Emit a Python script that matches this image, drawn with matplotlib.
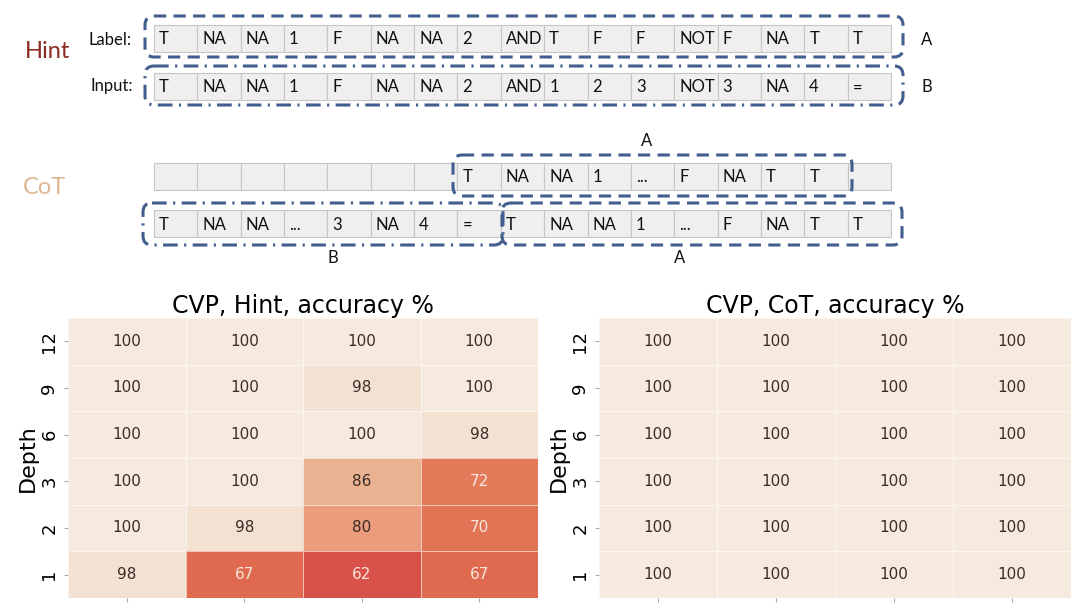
import matplotlib

matplotlib.use("Agg")
import matplotlib.pyplot as plt
import numpy as np
from matplotlib.colors import LinearSegmentedColormap, Normalize
from matplotlib.patches import FancyBboxPatch, Rectangle

# ---- diagram tokens ----
label_tokens = ["T", "NA", "NA", "1", "F", "NA", "NA", "2", "AND",
                "T", "F", "F", "NOT", "F", "NA", "T", "T"]
input_tokens = ["T", "NA", "NA", "1", "F", "NA", "NA", "2", "AND",
                "1", "2", "3", "NOT", "3", "NA", "4", "="]
cot_top_tokens = ["", "", "", "", "", "", "",
                  "T", "NA", "NA", "1", "...", "F", "NA", "T", "T", ""]
cot_bottom_tokens = ["T", "NA", "NA", "...", "3", "NA", "4", "=",
                     "T", "NA", "NA", "1", "...", "F", "NA", "T", "T"]

# ---- heatmap data ----
depths = ["12", "9", "6", "3", "2", "1"]
n_cols = 4
hint_acc = np.array([
    [100, 100, 100, 100],
    [100, 100, 98, 100],
    [100, 100, 100, 98],
    [100, 100, 86, 72],
    [100, 98, 80, 70],
    [98, 67, 62, 67],
])
cot_acc = np.array([
    [100, 100, 100, 100],
    [100, 100, 100, 100],
    [100, 100, 100, 100],
    [100, 100, 100, 100],
    [100, 100, 100, 100],
    [100, 100, 100, 100],
])

W, H = 1080, 604
fig = plt.figure(figsize=(W / 100, H / 100), dpi=100)
fig.patch.set_facecolor("white")

# ---------------- top diagram (pixel coordinates) ----------------
ax = fig.add_axes([0, 0, 1, 1])
ax.set_xlim(0, W)
ax.set_ylim(H, 0)
ax.axis("off")

CELL_X0, CELL_W, CELL_H = 154, 43.35, 27
BOX_C = "#425E8E"
DIAG_FONT = ["Lato", "DejaVu Sans"]


def draw_row(tokens, y0):
    for i, tok in enumerate(tokens):
        x = CELL_X0 + i * CELL_W
        ax.add_patch(Rectangle((x, y0), CELL_W, CELL_H, facecolor="#EFEFEF",
                               edgecolor="#C6C6C6", lw=0.8))
        ax.text(x + 5, y0 + CELL_H / 2 + 1, tok, ha="left", va="center",
                fontsize=12, family=DIAG_FONT, color="#111111")


def draw_box(x0, y0, x1, y1, dashdot=False):
    ls = (0, (4.8, 2.1, 0.7, 2.1)) if dashdot else (0, (4.0, 2.4))
    ax.add_patch(FancyBboxPatch((x0, y0), x1 - x0, y1 - y0,
                                boxstyle="round,pad=0,rounding_size=9",
                                fill=False, ec=BOX_C, lw=2.2, linestyle=ls,
                                zorder=5))


draw_row(label_tokens, 25)
draw_row(input_tokens, 73)
draw_row(cot_top_tokens, 163)
draw_row(cot_bottom_tokens, 210)

draw_box(145, 16, 903, 57)
draw_box(145, 66, 903, 105, dashdot=True)
draw_box(453, 155, 852, 196)
draw_box(143, 203, 503, 245, dashdot=True)
draw_box(502, 203, 902, 245)

txt = dict(family=DIAG_FONT, ha="center", va="center", color="#111111")
ax.text(132, 40, "Label:", fontsize=12, **{**txt, "ha": "right"})
ax.text(133, 86, "Input:", fontsize=12, **{**txt, "ha": "right"})
ax.text(927, 40, "A", fontsize=12, **txt)
ax.text(927, 87, "B", fontsize=12, **txt)
ax.text(647, 141, "A", fontsize=12, **txt)
ax.text(333, 258, "B", fontsize=12, **txt)
ax.text(680, 258, "A", fontsize=12, **txt)
ax.text(48, 52, "Hint", fontsize=17, family=DIAG_FONT, ha="center",
        va="center", color="#8B2B22")
ax.text(45, 187, "CoT", fontsize=17, family=DIAG_FONT, ha="center",
        va="center", color="#DDB58F")

# ---------------- heatmaps ----------------
anchors = [(60, "#D34845"), (62, "#D9534A"), (67, "#E06A4F"), (72, "#E37B5B"),
           (80, "#EA9C7C"), (86, "#EBB291"), (98, "#F3E0D1"), (100, "#F6EADF")]
vmin, vmax = 60, 100
cmap = LinearSegmentedColormap.from_list(
    "acc", [((v - vmin) / (vmax - vmin), c) for v, c in anchors])
norm = Normalize(vmin, vmax)


def heatmap(rect, data, title):
    hx = fig.add_axes(rect)
    hx.pcolormesh(np.arange(n_cols + 1), np.arange(len(depths) + 1), data,
                  cmap=cmap, norm=norm, edgecolors=(1, 1, 1, 0.6), linewidth=0.6)
    hx.set_xlim(0, n_cols)
    hx.set_ylim(len(depths), 0)
    for r in range(len(depths)):
        for c in range(n_cols):
            v = data[r, c]
            hx.text(c + 0.5, r + 0.5, f"{v}", ha="center", va="center",
                    fontsize=11, color="#F7E6DC" if v < 75 else "#3B2C27")
    hx.set_xticks(np.arange(n_cols) + 0.5)
    hx.set_xticklabels([])
    hx.set_yticks(np.arange(len(depths)) + 0.5)
    hx.set_yticklabels(depths, rotation=90, va="center", fontsize=13)
    hx.tick_params(length=3, color="#AAAAAA", width=0.8, pad=4)
    for s in hx.spines.values():
        s.set_visible(False)
    hx.set_ylabel("Depth", fontsize=16, labelpad=2)
    hx.set_title(title, fontsize=17, pad=3)
    return hx


heatmap([68 / W, (H - 598) / H, 470 / W, 280 / H], hint_acc,
        "CVP, Hint, accuracy %")
heatmap([599 / W, (H - 598) / H, 472 / W, 280 / H], cot_acc,
        "CVP, CoT, accuracy %")

fig.savefig("out.png", dpi=100, facecolor="white")
